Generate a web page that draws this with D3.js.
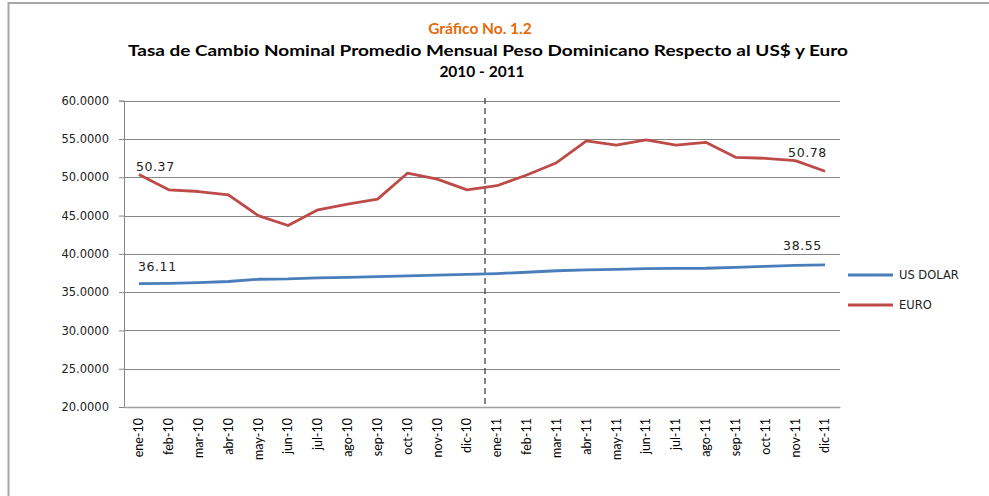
<!DOCTYPE html>
<html><head><meta charset="utf-8">
<script src="https://cdn.jsdelivr.net/npm/d3@7"></script>
<style>body{margin:0;background:#fff}svg{display:block}</style>
</head><body>
<script>
const months = ["ene-10","feb-10","mar-10","abr-10","may-10","jun-10","jul-10","ago-10","sep-10","oct-10","nov-10","dic-10",
"ene-11","feb-11","mar-11","abr-11","may-11","jun-11","jul-11","ago-11","sep-11","oct-11","nov-11","dic-11"];
const usd = [36.11,36.14,36.23,36.39,36.68,36.72,36.85,36.93,37.03,37.12,37.22,37.33,
37.43,37.60,37.79,37.91,37.97,38.06,38.10,38.12,38.23,38.37,38.50,38.55];
const euro = [50.37,48.36,48.14,47.70,45.00,43.70,45.75,46.50,47.15,50.53,49.75,48.36,
48.90,50.30,51.90,54.75,54.20,54.87,54.20,54.57,52.60,52.48,52.18,50.78];
const yTicks = [20,25,30,35,40,45,50,55,60];
const seriesNames = ["US DOLAR","EURO"];
const titleLines = ["Gráfico No. 1.2","Tasa de Cambio Nominal Promedio Mensual Peso Dominicano Respecto al US$ y Euro","2010 - 2011"];

const W=989,H=496;
const svg=d3.select("body").append("svg").attr("width",W).attr("height",H);
// frame
svg.append("line").attr("x1",8).attr("x2",W).attr("y1",3).attr("y2",3).attr("stroke","#a6a6a6").attr("stroke-width",2);
svg.append("line").attr("x1",8.5).attr("x2",8.5).attr("y1",2).attr("y2",H).attr("stroke","#a6a6a6").attr("stroke-width",2);

const L=124,R=840,T=100.7,B=407;
const x=d3.scaleBand().domain(months).range([L,R]);
const y=d3.scaleLinear().domain([20,60]).range([B,T]);

// gridlines
svg.append("g").selectAll("line").data(yTicks.slice(1)).join("line")
 .attr("x1",L).attr("x2",R).attr("y1",d=>Math.round(y(d))+0.5).attr("y2",d=>Math.round(y(d))+0.5)
 .attr("stroke","#868686").attr("stroke-width",1);

// y axis
const ya=svg.append("g").attr("transform",`translate(${L},0)`)
 .call(d3.axisLeft(y).tickValues(yTicks).tickFormat(d3.format(".4f")).tickSize(5).tickPadding(10));
ya.select(".domain").attr("stroke","#868686");
ya.selectAll(".tick line").attr("stroke","#868686");
ya.selectAll("text").attr("font-family","DejaVu Sans").attr("font-size",11.5).attr("fill","#222");

// x axis
const xa=svg.append("g").attr("transform",`translate(0,${B})`)
 .call(d3.axisBottom(x).tickSize(0).tickPadding(0));
xa.select(".domain").attr("stroke","#a0a0a0").attr("stroke-width",1.5);
xa.selectAll("text").attr("font-family","Lato").attr("font-size",12.5).attr("fill","#000")
 .attr("transform","rotate(-90)").attr("text-anchor","end").attr("x",-11).attr("y",0).attr("dy","0.35em");

// dashed divider
const xd = x(months[12]) + 3;
svg.append("line").attr("x1",xd).attr("x2",xd).attr("y1",98).attr("y2",B)
 .attr("stroke","#333").attr("stroke-width",1.2).attr("stroke-dasharray","6,4");

const cx=d=>x(d)+x.bandwidth()/2;
const line=d3.line().x(d=>cx(d[0])).y(d=>y(d[1]));
const colors=["#4a7ebb","#be4b48"];
[usd,euro].forEach((s,i)=>{
 svg.append("path").datum(months.map((m,j)=>[m,s[j]])).attr("d",line)
  .attr("fill","none").attr("stroke",colors[i]).attr("stroke-width",2.8).attr("stroke-linejoin","round");
});

// data labels
const lab=(t,xx,yy)=>svg.append("text").attr("x",xx).attr("y",yy).text(t)
 .attr("font-family","DejaVu Sans").attr("font-size",12.5).attr("letter-spacing",0.6).attr("fill","#222");
lab(d3.format(".2f")(euro[0]), cx(months[0])-3, y(euro[0])-3.5);
lab(d3.format(".2f")(usd[0]), cx(months[0])-1, y(usd[0])-13);
lab(d3.format(".2f")(euro[23]), cx(months[23])-37, y(euro[23])-14);
lab(d3.format(".2f")(usd[23]), cx(months[23])-42, y(usd[23])-15);

// legend
seriesNames.forEach((n,i)=>{
 const ly=275+i*30;
 svg.append("line").attr("x1",848).attr("x2",893).attr("y1",ly).attr("y2",ly).attr("stroke",colors[i]).attr("stroke-width",3);
 svg.append("text").attr("x",899).attr("y",ly).attr("dy","0.35em").text(n)
  .attr("font-family","DejaVu Sans").attr("font-size",11.5).attr("fill","#222");
});

// titles
const tl=(i,xx,yy,col)=>svg.append("text").attr("x",xx).attr("y",yy).attr("text-anchor","middle").text(titleLines[i])
 .attr("font-family","Lato").attr("font-weight","bold").attr("font-size",15.5).attr("fill",col);
tl(0,480,34,"#e46c0a");
tl(1,488,56,"#000").attr("textLength",720).attr("lengthAdjust","spacingAndGlyphs");
tl(2,482,77,"#000");
</script>
</body></html>
